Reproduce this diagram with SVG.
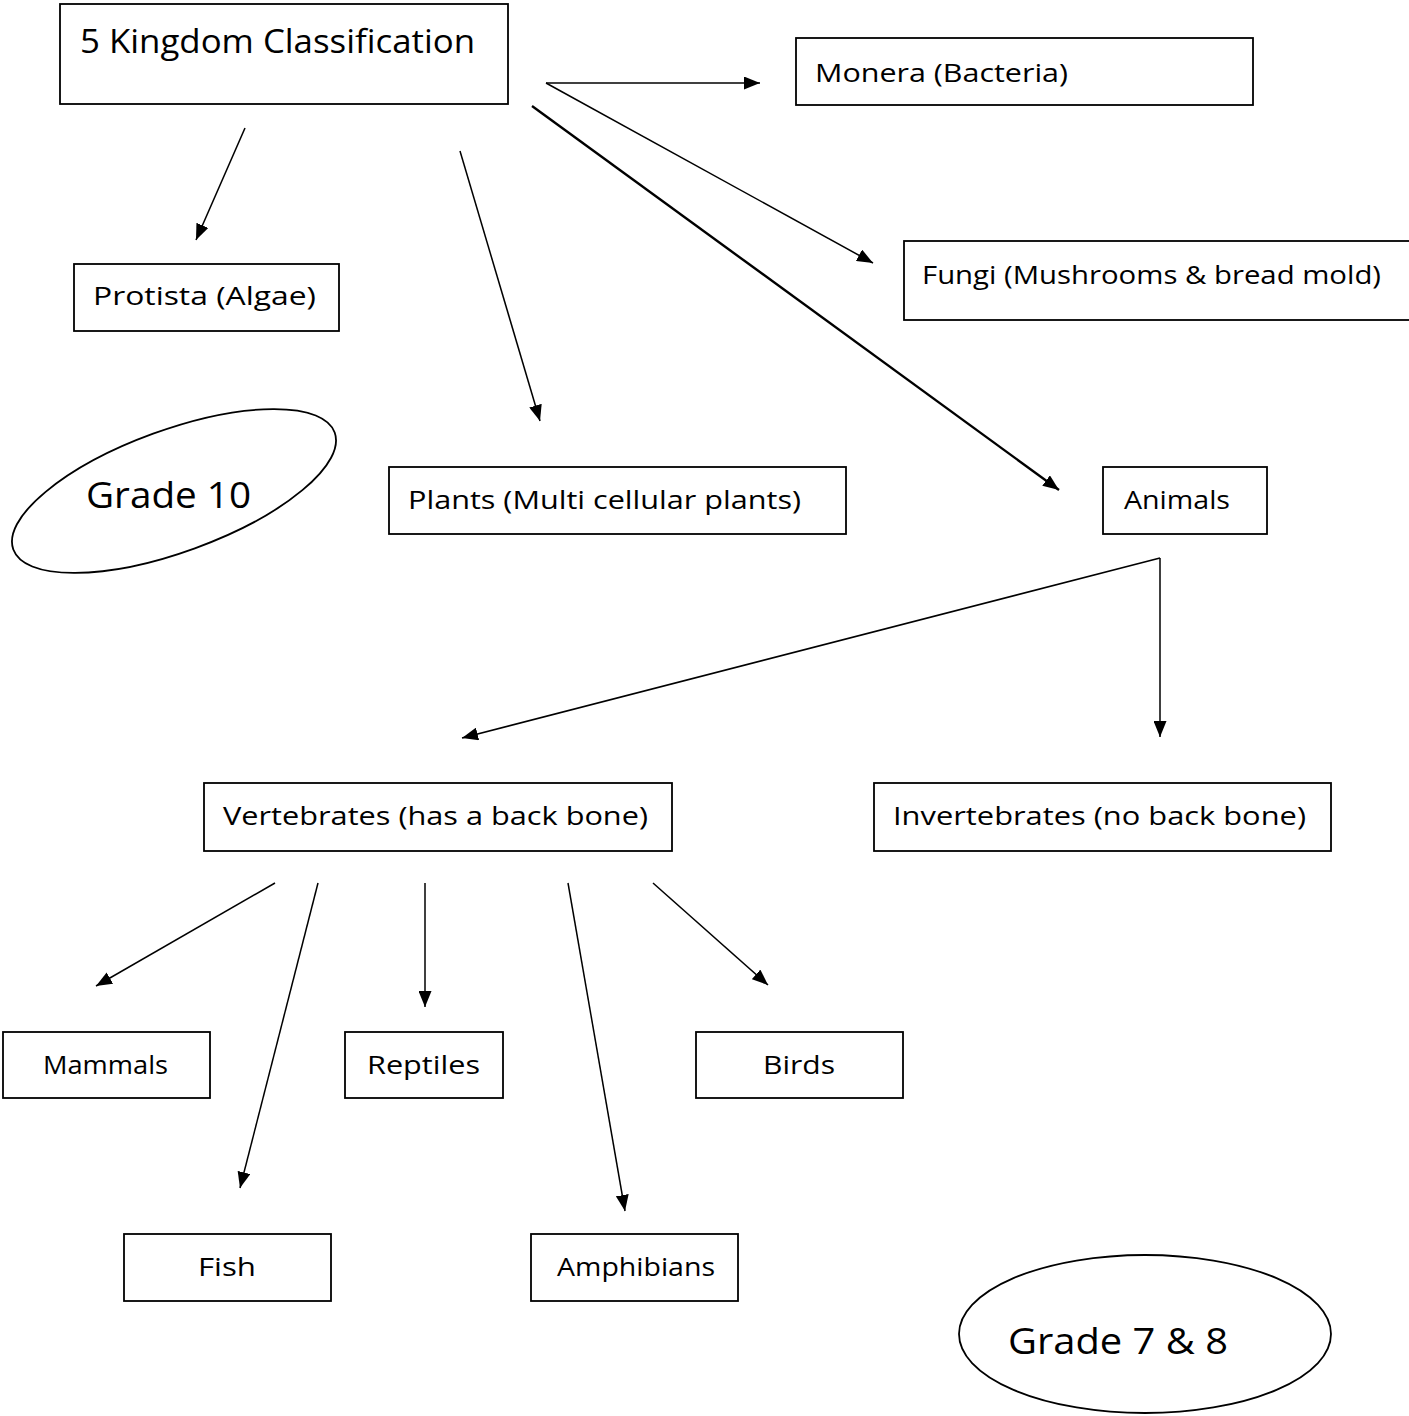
<svg xmlns="http://www.w3.org/2000/svg" width="1409" height="1416" viewBox="0 0 1409 1416">
<defs>
<style>
.box{fill:#fff;stroke:#000;stroke-width:1.8}
.ell{fill:#fff;stroke:#000;stroke-width:1.8}
.t{font-family:"Open Sans","DejaVu Sans",sans-serif;font-size:25px;fill:#000}
.tb{font-family:"Open Sans","DejaVu Sans",sans-serif;font-size:33px;fill:#000}
.tg{font-family:"Open Sans","DejaVu Sans",sans-serif;font-size:37px;fill:#000}
.c{stroke:#000;stroke-width:1.5;fill:none;marker-end:url(#ah)}
.ct{stroke:#000;stroke-width:2.4;fill:none;marker-end:url(#ah)}
</style>
<marker id="ah" markerUnits="userSpaceOnUse" markerWidth="17" markerHeight="13" refX="16" refY="6.5" orient="auto">
<path d="M0,0 L16,6.5 L0,13 Z" fill="#000"/>
</marker>
</defs>
<rect width="1409" height="1416" fill="#fff"/>
<g id="connectors">
<line class="c" x1="546" y1="83" x2="760" y2="83"/>
<line class="c" x1="546" y1="83" x2="873" y2="263"/>
<line class="ct" x1="532" y1="106" x2="1059" y2="490"/>
<line class="c" x1="245" y1="128" x2="196" y2="240"/>
<line class="c" x1="460" y1="151" x2="540" y2="421"/>
<line class="c" x1="1160" y1="558" x2="462" y2="738"/>
<line class="c" x1="1160" y1="558" x2="1160" y2="737"/>
<line class="c" x1="275" y1="883" x2="96" y2="986"/>
<line class="c" x1="318" y1="883" x2="240" y2="1188"/>
<line class="c" x1="425" y1="883" x2="425" y2="1007"/>
<line class="c" x1="568" y1="883" x2="625" y2="1211"/>
<line class="c" x1="653" y1="883" x2="768" y2="985"/>
</g>
<g id="title"><rect class="box" x="60" y="4" width="448" height="100"/><text class="tb" x="80" y="53" textLength="395" lengthAdjust="spacingAndGlyphs">5 Kingdom Classification</text></g>
<g id="monera"><rect class="box" x="796" y="38" width="457" height="67"/><text class="t" x="815" y="82" textLength="253" lengthAdjust="spacingAndGlyphs">Monera (Bacteria)</text></g>
<g id="fungi"><rect class="box" x="904" y="241" width="506" height="79"/><text class="t" x="922" y="284" textLength="459" lengthAdjust="spacingAndGlyphs">Fungi (Mushrooms &amp; bread mold)</text></g>
<g id="protista"><rect class="box" x="74" y="264" width="265" height="67"/><text class="t" x="93" y="305" textLength="223" lengthAdjust="spacingAndGlyphs">Protista (Algae)</text></g>
<g id="grade10"><ellipse class="ell" cx="174" cy="491" rx="171" ry="61" transform="rotate(-20 174 491)"/><text class="tg" x="86" y="508" textLength="165" lengthAdjust="spacingAndGlyphs">Grade 10</text></g>
<g id="plants"><rect class="box" x="389" y="467" width="457" height="67"/><text class="t" x="408" y="509" textLength="393" lengthAdjust="spacingAndGlyphs">Plants (Multi cellular plants)</text></g>
<g id="animals"><rect class="box" x="1103" y="467" width="164" height="67"/><text class="t" x="1124" y="509" textLength="106" lengthAdjust="spacingAndGlyphs">Animals</text></g>
<g id="vertebrates"><rect class="box" x="204" y="783" width="468" height="68"/><text class="t" x="223" y="825" textLength="425" lengthAdjust="spacingAndGlyphs">Vertebrates (has a back bone)</text></g>
<g id="invertebrates"><rect class="box" x="874" y="783" width="457" height="68"/><text class="t" x="893" y="825" textLength="413" lengthAdjust="spacingAndGlyphs">Invertebrates (no back bone)</text></g>
<g id="mammals"><rect class="box" x="3" y="1032" width="207" height="66"/><text class="t" x="43" y="1074" textLength="125" lengthAdjust="spacingAndGlyphs">Mammals</text></g>
<g id="reptiles"><rect class="box" x="345" y="1032" width="158" height="66"/><text class="t" x="367" y="1074" textLength="113" lengthAdjust="spacingAndGlyphs">Reptiles</text></g>
<g id="birds"><rect class="box" x="696" y="1032" width="207" height="66"/><text class="t" x="763" y="1074" textLength="72" lengthAdjust="spacingAndGlyphs">Birds</text></g>
<g id="fish"><rect class="box" x="124" y="1234" width="207" height="67"/><text class="t" x="198" y="1276" textLength="58" lengthAdjust="spacingAndGlyphs">Fish</text></g>
<g id="amphibians"><rect class="box" x="531" y="1234" width="207" height="67"/><text class="t" x="557" y="1276" textLength="158" lengthAdjust="spacingAndGlyphs">Amphibians</text></g>
<g id="grade78"><ellipse class="ell" cx="1145" cy="1334" rx="186" ry="79"/><text class="tg" x="1008" y="1354" textLength="220" lengthAdjust="spacingAndGlyphs">Grade 7 &amp; 8</text></g>
</svg>
